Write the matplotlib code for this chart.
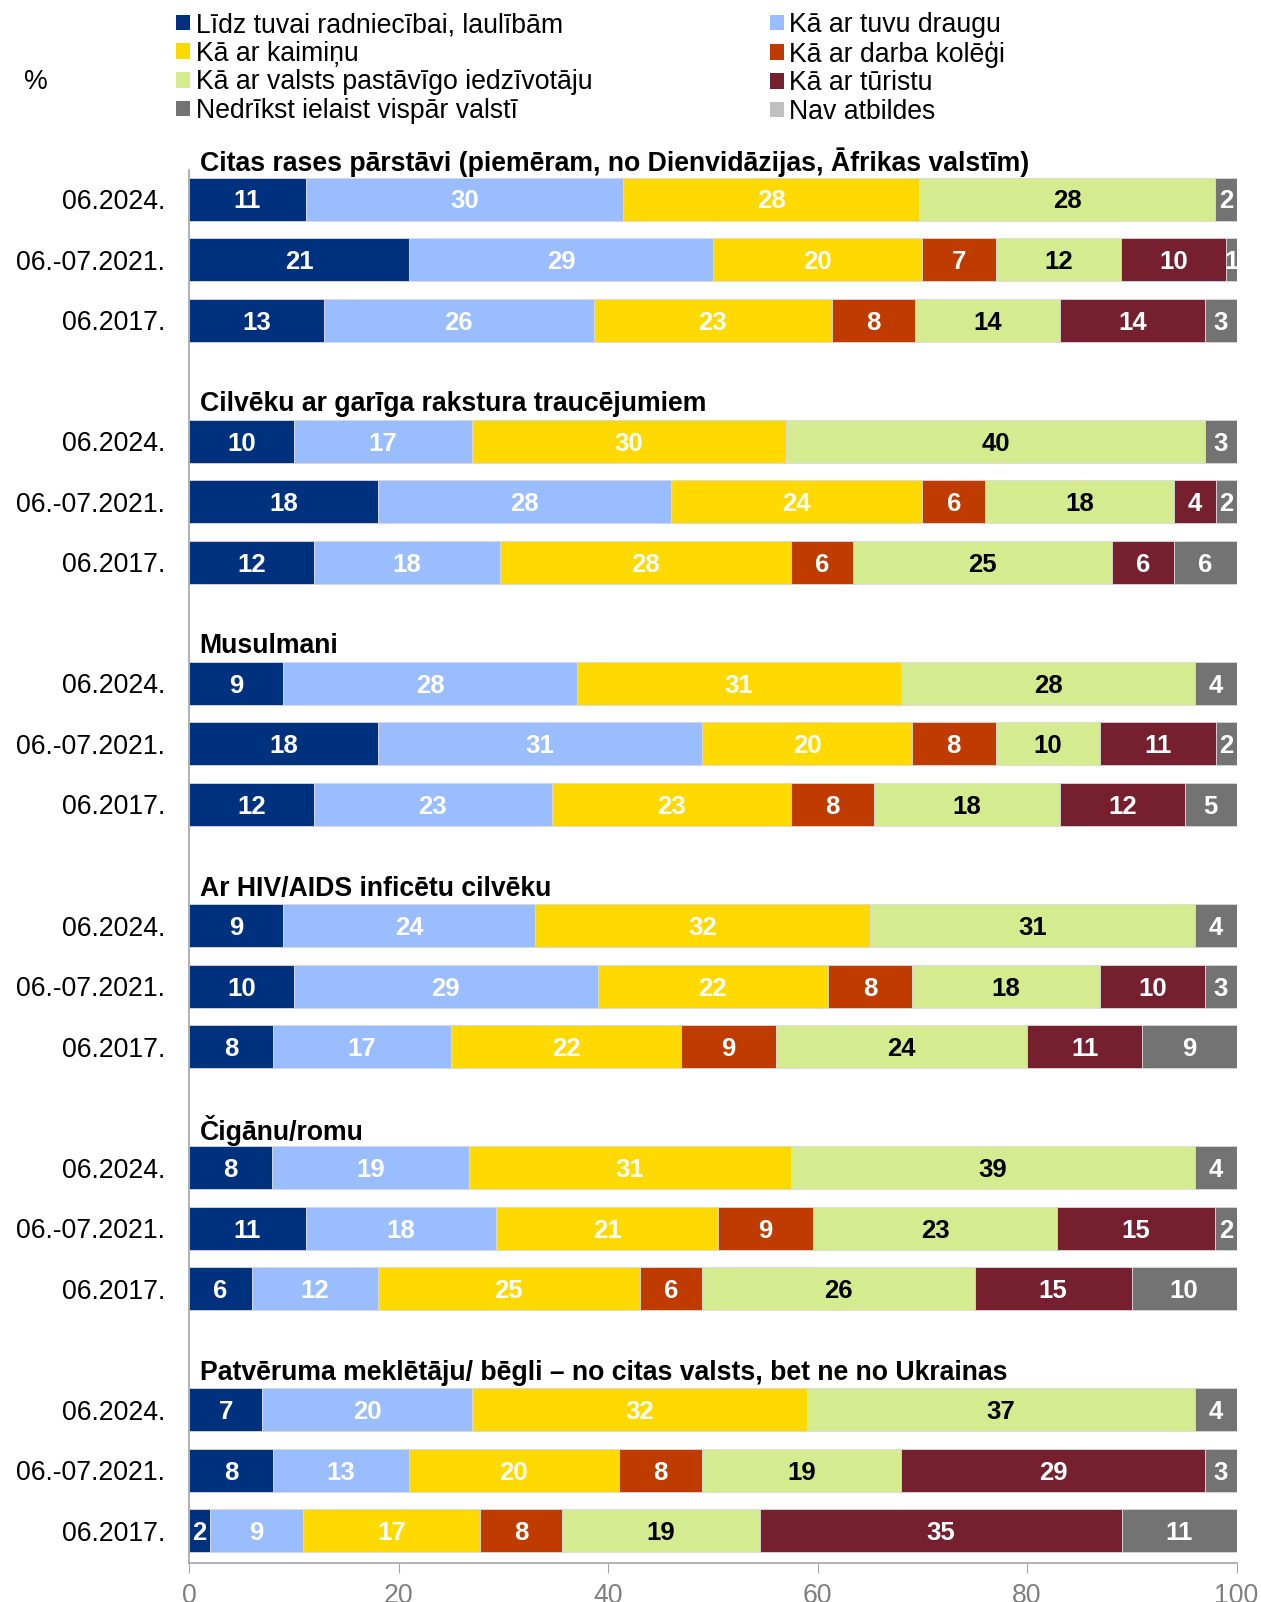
import numpy as np
import matplotlib.pyplot as plt
from matplotlib.patches import Patch

plt.rcParams['font.family'] = ['Liberation Sans', 'DejaVu Sans']

# answer categories (stacking order)
categories = [
    "Līdz tuvai radniecībai, laulībām",
    "Kā ar tuvu draugu",
    "Kā ar kaimiņu",
    "Kā ar darba kolēģi",
    "Kā ar valsts pastāvīgo iedzīvotāju",
    "Kā ar tūristu",
    "Nedrīkst ielaist vispār valstī",
    "Nav atbildes",
]
colors = ['#00317f', '#99bdff', '#ffd900', '#c03b00', '#d5eb90', '#76202f', '#737373', '#c0c0c0']
label_colors = ['white', 'white', 'white', 'white', 'black', 'white', 'white', 'black']

periods = ["06.2024.", "06.-07.2021.", "06.2017."]

groups = [
    "Citas rases pārstāvi (piemēram, no Dienvidāzijas, Āfrikas valstīm)",
    "Cilvēku ar garīga rakstura traucējumiem",
    "Musulmani",
    "Ar HIV/AIDS inficētu cilvēku",
    "Čigānu/romu",
    "Patvēruma meklētāju/ bēgli – no citas valsts, bet ne no Ukrainas",
]

# rows: 2024, 2021, 2017; columns follow categories
citas_rases = [[11, 30, 28, 0, 28, 0, 2, 0],
               [21, 29, 20, 7, 12, 10, 1, 0],
               [13, 26, 23, 8, 14, 14, 3, 0]]
gariga_rakstura = [[10, 17, 30, 0, 40, 0, 3, 0],
                   [18, 28, 24, 6, 18, 4, 2, 0],
                   [12, 18, 28, 6, 25, 6, 6, 0]]
musulmani = [[9, 28, 31, 0, 28, 0, 4, 0],
             [18, 31, 20, 8, 10, 11, 2, 0],
             [12, 23, 23, 8, 18, 12, 5, 0]]
hiv_aids = [[9, 24, 32, 0, 31, 0, 4, 0],
            [10, 29, 22, 8, 18, 10, 3, 0],
            [8, 17, 22, 9, 24, 11, 9, 0]]
cigani_romi = [[8, 19, 31, 0, 39, 0, 4, 0],
               [11, 18, 21, 9, 23, 15, 2, 0],
               [6, 12, 25, 6, 26, 15, 10, 0]]
patveruma_mekletaji = [[7, 20, 32, 0, 37, 0, 4, 0],
                       [8, 13, 20, 8, 19, 29, 3, 0],
                       [2, 9, 17, 8, 19, 35, 11, 0]]

data = [citas_rases, gariga_rakstura, musulmani, hiv_aids, cigani_romi, patveruma_mekletaji]

FS = 19.2

fig = plt.figure(figsize=(12.61, 16.02), dpi=100)
ax = fig.add_axes([0.150, 0.0243, 0.8306, 0.8696])

ytick_pos = []
ytick_lab = []
for g, rows in enumerate(data):
    for j, row in enumerate(rows):
        y = g * 4 + j
        ytick_pos.append(y)
        ytick_lab.append(periods[j])
        vals = np.array(row, dtype=float)
        widths = vals / vals.sum() * 100  # 100% stacked
        left = 0.0
        for k, w in enumerate(widths):
            if vals[k] == 0:
                continue
            ax.barh(y, w, left=left, height=0.71, color=colors[k],
                    edgecolor='#d9d9d9', linewidth=0.6)
            ax.text(left + w / 2, y + 0.04, str(int(vals[k])), ha='center', va='center',
                    color=label_colors[k], fontsize=18.5, fontweight='bold')
            left += w
    ax.text(1, g * 4 - 0.61, groups[g], ha='left', va='center',
            fontsize=FS, fontweight='bold', clip_on=False)

ax.set_xlim(0, 100)
ax.set_ylim(22.53, -0.48)
ax.set_yticks(ytick_pos)
ax.set_yticklabels(ytick_lab)
ax.set_xticks(np.arange(0, 101, 20))
ax.tick_params(axis='y', length=0, pad=17.5, labelsize=FS)
ax.tick_params(axis='x', direction='out', length=7, color='#a6a6a6',
               labelcolor='#808080', labelsize=FS, pad=7)
for s in ['top', 'right']:
    ax.spines[s].set_visible(False)
for s in ['left', 'bottom']:
    ax.spines[s].set_color('#a6a6a6')
    ax.spines[s].set_linewidth(1.2)

handles = [Patch(facecolor=c) for c in colors]
leg_kw = dict(loc='upper left', frameon=False, fontsize=FS, borderpad=0,
              borderaxespad=0, handlelength=0.53, handleheight=0.53,
              handletextpad=0.2, labelspacing=0.1)
leg1 = fig.legend([handles[i] for i in (0, 2, 4, 6)], [categories[i] for i in (0, 2, 4, 6)],
                  bbox_to_anchor=(0.1396, 1 - 12 / 1602), **leg_kw)
leg2 = fig.legend([handles[i] for i in (1, 3, 5, 7)], [categories[i] for i in (1, 3, 5, 7)],
                  bbox_to_anchor=(0.6106, 1 - 12 / 1602), **leg_kw)

fig.text(36 / 1261, 1 - 82 / 1602, '%', ha='center', va='center', fontsize=FS)

fig.savefig('out.png', dpi=100)
